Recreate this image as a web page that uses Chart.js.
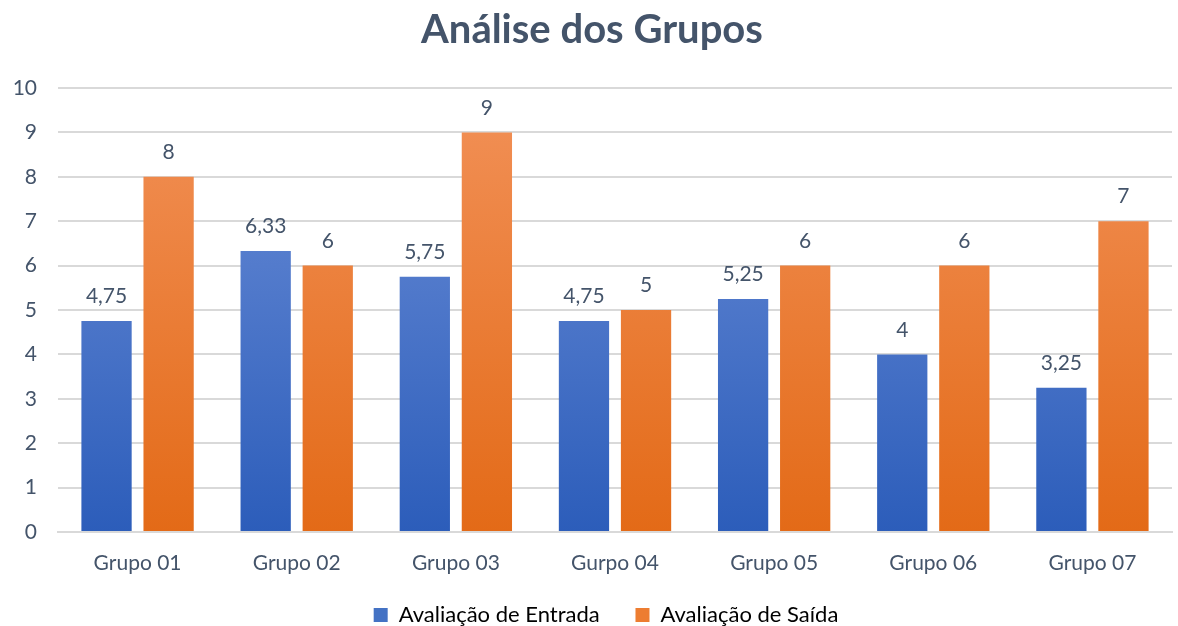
<!DOCTYPE html>
<html>
<head>
<meta charset="utf-8">
<script src="https://cdn.jsdelivr.net/npm/chart.js@4"></script>
<style>
    html, body { margin: 0; padding: 0; background: #fff; }
    #wrap { width: 1178px; height: 626px; }
</style>
</head>
<body>
<div id="wrap"><canvas id="grupos_chart"></canvas></div>
<script>
const grupos = ["Grupo 01", "Grupo 02", "Grupo 03", "Gurpo 04", "Grupo 05", "Grupo 06", "Grupo 07"];
const avaliacao_entrada = [4.75, 6.33, 5.75, 4.75, 5.25, 4, 3.25];
const avaliacao_saida = [8, 6, 9, 5, 6, 6, 7];
const y_ticks = [0, 1, 2, 3, 4, 5, 6, 7, 8, 9, 10];

const FONT = "Lato, 'Open Sans', sans-serif";
const TEXT_COLOR = "#44546A";

function gradient(ctx, top, bottom) {
    const chart = ctx.chart;
    const area = chart.chartArea;
    if (!area) return bottom;
    const g = chart.ctx.createLinearGradient(0, area.top, 0, area.bottom);
    g.addColorStop(0, top);
    g.addColorStop(1, bottom);
    return g;
}

// rótulos de dados acima das barras
const valueLabels = {
    id: "valueLabels",
    afterLayout(chart) {
        // legenda centrada na área do gráfico, não no canvas
        const lg = chart.legend;
        if (lg) {
            lg.left += 14;
            lg.right += 14;
        }
    },
    afterDatasetsDraw(chart) {
        const c = chart.ctx;
        c.save();
        c.font = "21px " + FONT;
        c.fillStyle = TEXT_COLOR;
        c.textAlign = "center";
        c.textBaseline = "bottom";
        chart.data.datasets.forEach((ds, i) => {
            chart.getDatasetMeta(i).data.forEach((bar, j) => {
                const txt = String(ds.data[j]).replace(".", ",");
                c.fillText(txt, bar.x, bar.y - 14);
            });
        });
        c.restore();
    },
};

new Chart(document.getElementById("grupos_chart"), {
    type: "bar",
    data: {
        labels: grupos,
        datasets: [
            {
                label: "Avaliação de Entrada",
                data: avaliacao_entrada,
                backgroundColor: (ctx) => gradient(ctx, "#6D8FD8", "#2C5DBA"),
            },
            {
                label: "Avaliação de Saída",
                data: avaliacao_saida,
                backgroundColor: (ctx) => gradient(ctx, "#F29158", "#E36A17"),
            },
        ],
    },
    options: {
        responsive: true,
        maintainAspectRatio: false,
        animation: false,
        datasets: {
            bar: {
                categoryPercentage: 0.78,
                barPercentage: 0.81,
            },
        },
        layout: {
            padding: { left: 12, right: 6, top: 0, bottom: -10 },
        },
        plugins: {
            title: {
                display: true,
                text: "Análise dos Grupos",
                color: TEXT_COLOR,
                font: { family: FONT, size: 40, weight: "bold" },
                padding: { top: 6, bottom: 34 },
            },
            legend: {
                position: "bottom",
                labels: {
                    color: TEXT_COLOR,
                    font: { family: FONT, size: 22 },
                    boxWidth: 14,
                    boxHeight: 14,
                    padding: 2,
                    generateLabels(chart) {
                        return chart.data.datasets.map((ds, i) => ({
                            text: i === 0 ? ds.label + "      " : ds.label,
                            fillStyle: i === 0 ? "#4472C4" : "#ED7D31",
                            strokeStyle: "transparent",
                            lineWidth: 0,
                            datasetIndex: i,
                        }));
                    },
                },
            },
            tooltip: { enabled: false },
        },
        scales: {
            x: {
                grid: { display: false },
                border: { color: "#D9D9D9", width: 2 },
                ticks: {
                    color: TEXT_COLOR,
                    font: { family: FONT, size: 21 },
                    padding: 11,
                },
                afterFit(axis) {
                    axis.height = 70;
                },
            },
            y: {
                min: 0,
                max: 10,
                afterBuildTicks(axis) {
                    axis.ticks = y_ticks.map((v) => ({ value: v }));
                },
                grid: { color: "#D9D9D9", lineWidth: 2, drawTicks: false },
                border: { display: false },
                ticks: {
                    color: TEXT_COLOR,
                    font: { family: FONT, size: 21 },
                    padding: 21,
                },
                afterFit(axis) {
                    axis.width = 46;
                },
            },
        },
    },
    plugins: [valueLabels],
});
</script>
</body>
</html>
